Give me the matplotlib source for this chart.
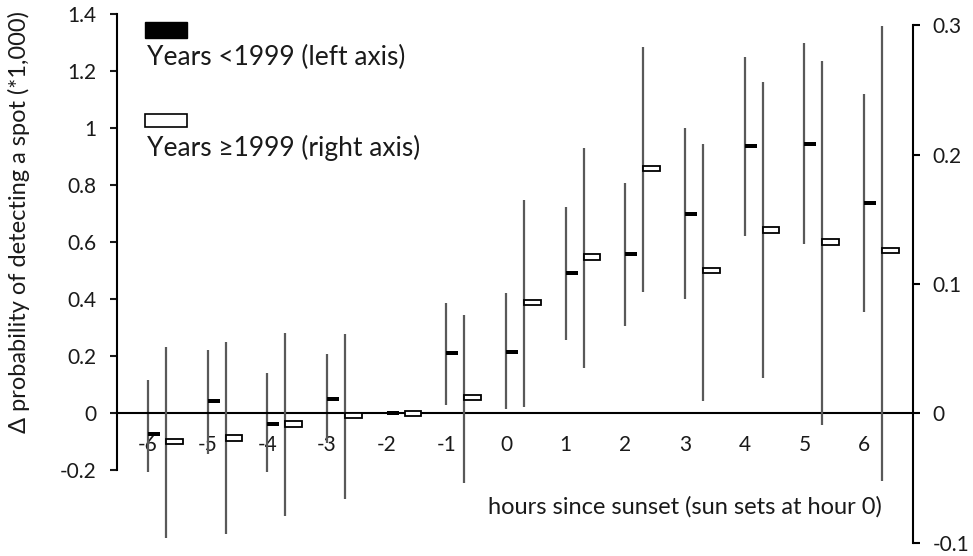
import numpy as np
import matplotlib
matplotlib.use('Agg')
import matplotlib.pyplot as plt

plt.rcParams['font.family'] = ['Lato', 'DejaVu Sans']
plt.rcParams['axes.unicode_minus'] = False

# hours relative to sunset
hours = [-6, -5, -4, -3, -2, -1, 0, 1, 2, 3, 4, 5, 6]
hour_labels = ['-6', '-5', '-4', '-3', '-2', '-1', '0', '1', '2', '3', '4', '5', '6']

# years < 1999 (left axis)
early_est = [-0.074, 0.041, -0.039, 0.050, 0.0, 0.209, 0.215, 0.492, 0.558, 0.697, 0.937, 0.945, 0.736]
early_lo = [-0.206, -0.144, -0.206, -0.105, np.nan, 0.028, 0.014, 0.256, 0.305, 0.399, 0.622, 0.592, 0.356]
early_hi = [0.116, 0.221, 0.141, 0.207, np.nan, 0.385, 0.420, 0.724, 0.808, 0.999, 1.250, 1.297, 1.119]

# years >= 1999 (right axis)
late_est = [-0.0216, -0.019, -0.008, -0.0015, 0.0, 0.0122, 0.0855, 0.1207, 0.189, 0.1104, 0.1418, 0.1323, 0.1259]
late_lo = [-0.096, -0.0934, -0.0788, -0.066, np.nan, -0.054, 0.005, 0.0353, 0.0942, 0.010, 0.0273, -0.0087, -0.0523]
late_hi = [0.0517, 0.055, 0.0623, 0.0615, np.nan, 0.0764, 0.165, 0.205, 0.2834, 0.2083, 0.2558, 0.2723, 0.2996]

left_ticks = [-0.2, 0, 0.2, 0.4, 0.6, 0.8, 1, 1.2, 1.4]
right_ticks = [-0.1, 0, 0.1, 0.2, 0.3]

x = np.array(hours, dtype=float)
line_col = '#595959'
txt_col = '#1a1a1a'

fig = plt.figure(figsize=(9.73, 5.56), dpi=100)
ax = fig.add_axes([0.1202, 0.0234, 0.8181, 0.9514])
ax2 = ax.twinx()

# error bars (gray vertical lines)
e_lo, e_hi = np.array(early_lo), np.array(early_hi)
m = ~np.isnan(e_lo)
ax.vlines(x[m], e_lo[m], e_hi[m], color=line_col, lw=1.6, zorder=2)
l_lo, l_hi = np.array(late_lo), np.array(late_hi)
m = ~np.isnan(l_lo)
ax2.vlines(x[m] + 0.3, l_lo[m], l_hi[m], color=line_col, lw=1.6, zorder=2)

# point estimates drawn as small rectangles to the right of the line
h_black = 0.014
ax.bar(x, h_black, width=0.2, bottom=np.array(early_est) - h_black / 2,
       align='edge', color='black', zorder=3)
h_white = 0.0042
ax2.bar(x + 0.3, h_white, width=0.28, bottom=np.array(late_est) - h_white / 2,
        align='edge', facecolor='white', edgecolor='black', lw=1.3, zorder=3)

ax.set_xlim(-6.52, 6.82)
ax2.set_xlim(-6.52, 6.82)
ax.set_ylim(-0.456, 1.4)
ax2.set_ylim(-0.1, 0.3085)

# left axis
for s in ['top', 'right']:
    ax.spines[s].set_visible(False)
ax.spines['left'].set_bounds(-0.2, 1.4)
ax.spines['left'].set_linewidth(1.5)
ax.spines['bottom'].set_position(('data', 0))
ax.spines['bottom'].set_linewidth(1.5)
ax.set_yticks(left_ticks)
ax.set_yticklabels([f'{v:g}' for v in left_ticks])
ax.tick_params(axis='y', direction='out', length=5, width=1.5, pad=10, labelsize=15, colors=txt_col)
ax.set_xticks(hours)
ax.set_xticklabels(hour_labels)
ax.tick_params(axis='x', length=0, pad=15.5, labelsize=15, labelcolor=txt_col)

# right axis
for s in ['top', 'left', 'bottom']:
    ax2.spines[s].set_visible(False)
ax2.spines['right'].set_bounds(-0.1, 0.3)
ax2.spines['right'].set_linewidth(1.5)
ax2.set_yticks(right_ticks)
ax2.set_yticklabels([f'{v:g}' for v in right_ticks])
ax2.tick_params(axis='y', direction='out', length=5, width=1.5, pad=9, labelsize=15, labelcolor=txt_col)

fig.text(0.019, 1 - 222 / 556, '\u0394 probability of detecting a spot (*1,000)',
         rotation=90, ha='center', va='center', fontsize=17, color=txt_col)
fig.text(882 / 973, 1 - 507 / 556, 'hours since sunset (sun sets at hour 0)',
         ha='right', va='center', fontsize=17, color=txt_col)

# legend, drawn by hand like the original
fig.patches.append(plt.Rectangle((145 / 973, 1 - 38 / 556), 42 / 973, 16 / 556,
                                 transform=fig.transFigure, facecolor='black', edgecolor='black'))
fig.text(147 / 973, 1 - 57 / 556, 'Years <1999 (left axis)', ha='left', va='center',
         fontsize=19, color=txt_col)
fig.patches.append(plt.Rectangle((145 / 973, 1 - 127 / 556), 42 / 973, 13 / 556,
                                 transform=fig.transFigure, facecolor='white', edgecolor='black', lw=1.2))
fig.text(147 / 973, 1 - 148 / 556, 'Years \u22651999 (right axis)', ha='left', va='center',
         fontsize=19, color=txt_col)

fig.savefig('out.png', dpi=100)
